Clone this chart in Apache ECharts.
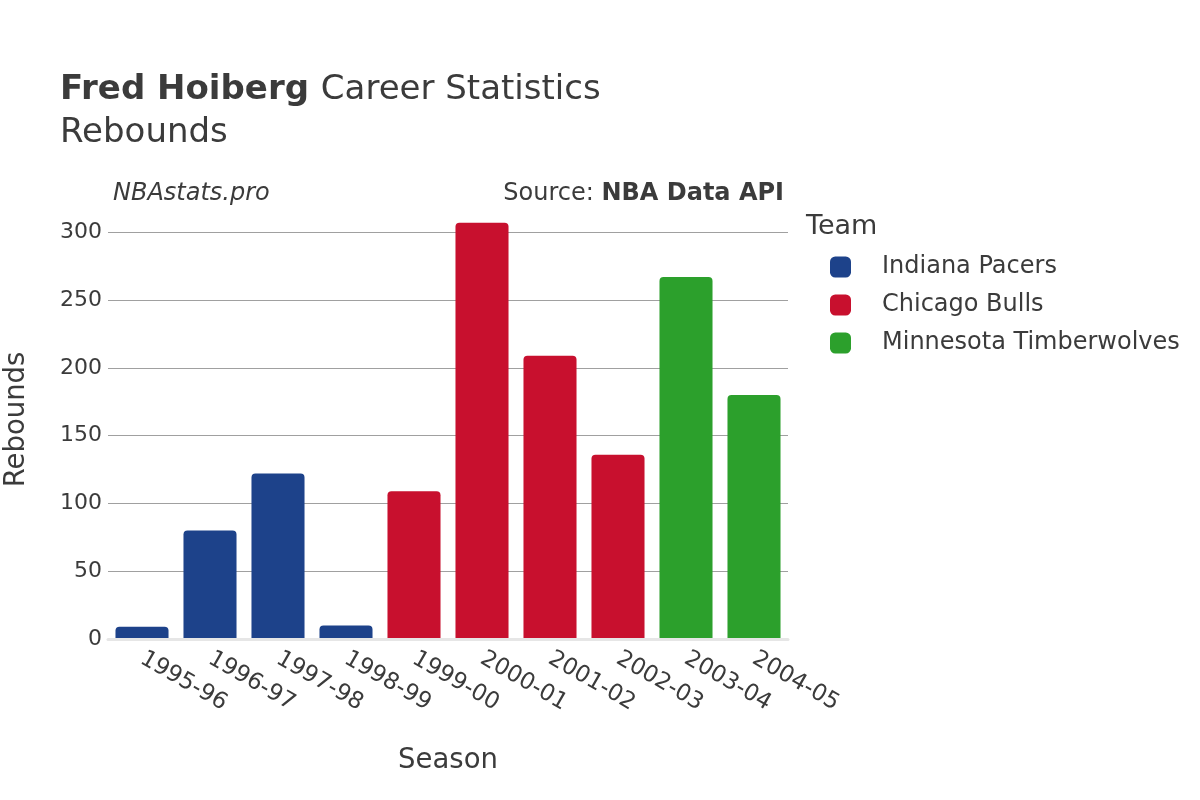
<!DOCTYPE html>
<html>
<head>
<meta charset="utf-8">
<script src="https://cdn.jsdelivr.net/npm/echarts@6/dist/echarts.min.js"></script>
<style>
  html, body { margin: 0; padding: 0; background: #fff; }
  #chart { width: 1200px; height: 800px; }
</style>
</head>
<body>
<div id="chart"></div>
<script>
const seasons = ['1995-96', '1996-97', '1997-98', '1998-99', '1999-00', '2000-01', '2001-02', '2002-03', '2003-04', '2004-05']
const teams = ['Indiana Pacers', 'Chicago Bulls', 'Minnesota Timberwolves']
const teamColors = ['#1d428a', '#c8102e', '#2ca02c']
// team index for each season
const seasonTeam = [0, 0, 0, 0, 1, 1, 1, 1, 2, 2]
const rebounds = [9, 80, 122, 10, 109, 307, 209, 136, 267, 180]
const yTicks = [0, 50, 100, 150, 200, 250, 300]

const font = 'DejaVu Sans'
const textColor = '#3b3b3b'

// plot box (px)
const plotLeft = 108
const plotRight = 788
const plotTop = 200
const zeroY = 639
const tickTopY = 232.3
const pxPerUnit = (zeroY - tickTopY) / yTicks[yTicks.length - 1]
const yMax = (zeroY - plotTop) / pxPerUnit

const chart = echarts.init(document.getElementById('chart'))

const series = teams.map((team, ti) => ({
  name: team,
  type: 'bar',
  stack: 'all',
  xAxisIndex: 0,
  yAxisIndex: 0,
  barWidth: '78%',
  itemStyle: { color: teamColors[ti], borderRadius: [4, 4, 0, 0] },
  data: rebounds.map((v, i) => (seasonTeam[i] === ti ? v : '-'))
}))

const plain = (size, extra) => Object.assign({ fontFamily: font, fontSize: size, fontWeight: 'normal', color: textColor }, extra || {})

const option = {
  backgroundColor: '#fff',
  animation: false,
  textStyle: { fontFamily: font },
  title: [
    {
      left: 60,
      top: 73,
      padding: 0,
      text: '{b|Fred Hoiberg }{n|Career Statistics}',
      textStyle: {
        rich: {
          b: plain(34, { fontWeight: 'bold' }),
          n: plain(34)
        }
      }
    },
    {
      left: 60,
      top: 116,
      padding: 0,
      text: 'Rebounds',
      textStyle: plain(34)
    },
    {
      left: 113,
      top: 182,
      padding: 0,
      text: 'NBAstats.pro',
      textStyle: plain(24, { fontStyle: 'italic' })
    },
    {
      right: 1200 - 784,
      top: 182,
      padding: 0,
      text: '{n|Source: }{b|NBA Data API}',
      textStyle: {
        rich: {
          n: plain(24),
          b: plain(24, { fontWeight: 'bold' })
        }
      }
    },
    {
      left: 806,
      top: 213,
      padding: 0,
      text: 'Team',
      textStyle: plain(27)
    }
  ],
  legend: {
    orient: 'vertical',
    left: 830,
    top: 255,
    padding: 0,
    itemWidth: 21,
    itemHeight: 21,
    itemGap: 14,
    icon: 'roundRect',
    textStyle: plain(24, { padding: [0, 0, 0, 26] }),
    data: teams
  },
  grid: [
    { left: plotLeft, right: 1200 - plotRight, top: plotTop, bottom: 800 - zeroY, outerBoundsMode: 'none' },
    { left: plotLeft, right: 1200 - plotRight, top: tickTopY, bottom: 800 - zeroY, outerBoundsMode: 'none' }
  ],
  xAxis: [
    {
      type: 'category',
      gridIndex: 0,
      data: seasons,
      name: 'Season',
      nameLocation: 'middle',
      nameGap: 108,
      nameTextStyle: plain(27.5),
      axisLine: { show: true, lineStyle: { color: '#e6e6e6', width: 3 } },
      axisTick: { show: false },
      axisLabel: Object.assign({ rotate: -30, margin: 18, interval: 0 }, plain(23)),
      z: 5
    },
    {
      type: 'category',
      gridIndex: 1,
      data: seasons,
      show: false
    }
  ],
  yAxis: [
    {
      type: 'value',
      gridIndex: 0,
      min: 0,
      max: yMax,
      name: 'Rebounds',
      nameLocation: 'middle',
      nameGap: 77,
      nameTextStyle: plain(27.5),
      axisLine: { show: false },
      axisTick: { show: false },
      axisLabel: { show: false },
      splitLine: { show: false }
    },
    {
      type: 'value',
      gridIndex: 1,
      min: yTicks[0],
      max: yTicks[yTicks.length - 1],
      interval: yTicks[1] - yTicks[0],
      axisLine: { show: false },
      axisTick: { show: false },
      axisLabel: Object.assign({ margin: 6 }, plain(22)),
      splitLine: { lineStyle: { color: '#a0a0a0', width: 1 } }
    }
  ],
  series: series
}

chart.setOption(option)
</script>
</body>
</html>
